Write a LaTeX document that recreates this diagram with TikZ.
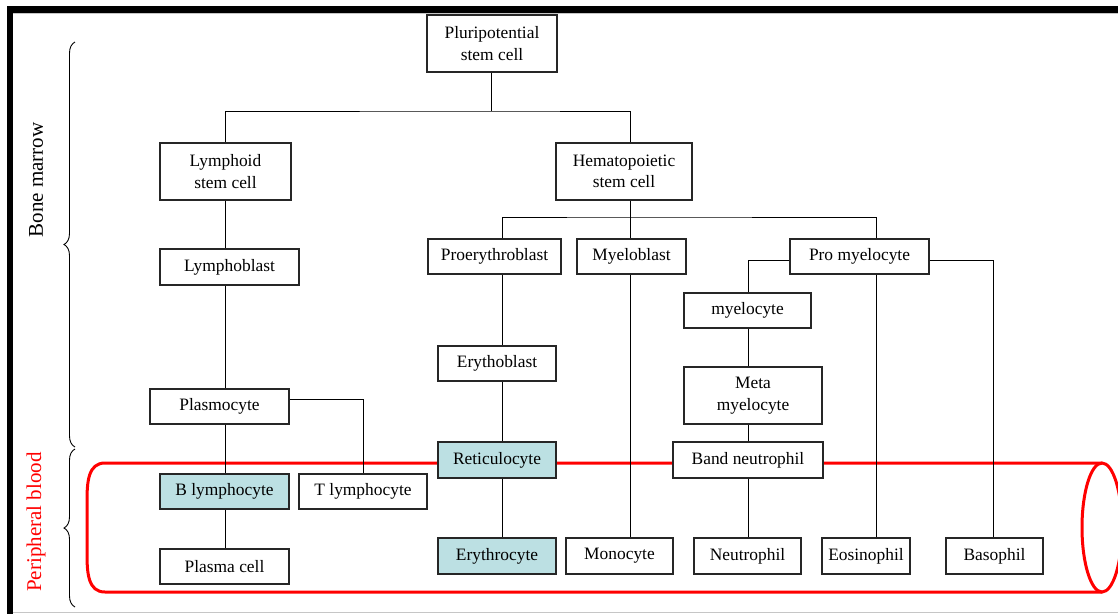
\documentclass[tikz,border=0pt]{standalone}
\usepackage{fontspec}
\setmainfont{Liberation Serif}
\usetikzlibrary{decorations.pathreplacing}
\definecolor{cellblue}{HTML}{BCE0E3}
\tikzset{
  box/.style={draw=black!85, line width=1.1pt, fill=white, inner sep=0pt, align=center,
    font=\fontsize{17.4}{21.5}\selectfont},
  hl/.style={box, fill=cellblue},
  link/.style={line width=1pt},
  tube/.style={draw=red, line width=3pt},
  bracestyle/.style={decorate, decoration={brace, amplitude=11pt}, line width=0.9pt},
  sidelabel/.style={rotate=90, font=\fontsize{21}{25}\selectfont},
}
\begin{document}
\begin{tikzpicture}[x=1pt,y=-1pt]
\useasboundingbox (0,0) rectangle (1118,614);
% frame
\fill[black] (7,6) rectangle (1118,12.5);
\fill[black] (7,6) rectangle (13,614);
\draw[gray!45, line width=1pt] (13,13) -- (1118,13);
\draw[gray!45, line width=1.2pt] (13,612.5) -- (1118,612.5);

% column coordinates
\coordinate (cA) at (225,0);
\coordinate (cC) at (502,0);
\coordinate (cE) at (630,0);
\coordinate (cF) at (748,0);
\coordinate (cG) at (876,0);
\coordinate (cH) at (993,0);
\coordinate (j1) at (491,111);
\coordinate (j2) at (630,217);

% vessel
\draw[tube] (1102,463) -- (105,463) .. controls (88,463) and (87,482) .. (87,502)
  -- (87,553) .. controls (87,573) and (88,592) .. (105,592) -- (1102,592);
\draw[tube] (1102,527.5) ellipse [x radius=20, y radius=64.5];

% braces and labels
\draw[bracestyle] (75,447) -- (75,42);
\draw[bracestyle] (75,607) -- (75,449);
\node[sidelabel] (bm) at (36,180) {Bone marrow};
\node[sidelabel, text=red] (pb) at (36,522) {Peripheral blood};

% nodes
\node[box, minimum width=130, minimum height=57] (pluri) at (492,43.5) {Pluripotential\\stem cell};
\node[box, minimum width=131, minimum height=57] (lymph) at (225.5,171.5) {Lymphoid\\stem cell};
\node[box, minimum width=136, minimum height=57] (hema) at (624,171.5) {Hematopoietic\\stem cell};
\node[box, minimum width=139, minimum height=36] (lblast) at (229.5,267) {Lymphoblast};
\node[box, minimum width=133, minimum height=35] (proery) at (494.5,256.5) {Proerythroblast};
\node[box, minimum width=109, minimum height=35] (myelob) at (631.5,256.5) {Myeloblast};
\node[box, minimum width=139, minimum height=35] (promy) at (859.5,256.5) {Pro myelocyte};
\node[box, minimum width=127, minimum height=35] (myel) at (747.5,310.5) {myelocyte};
\node[box, minimum width=138, minimum height=57] (meta) at (753,395.5) {Meta\\myelocyte};
\node[box, minimum width=118, minimum height=35] (erytho) at (497,363.5) {Erythoblast};
\node[box, minimum width=139, minimum height=35] (plasmo) at (219.5,406.5) {Plasmocyte};
\node[hl,  minimum width=118, minimum height=36] (retic) at (497,460) {Reticulocyte};
\node[box, minimum width=150, minimum height=36] (band) at (748,460) {Band neutrophil};
\node[hl,  minimum width=129, minimum height=35] (blym) at (224.5,491.5) {B lymphocyte};
\node[box, minimum width=128, minimum height=35] (tlym) at (363,491.5) {T lymphocyte};
\node[box, minimum width=129, minimum height=35] (plcell) at (224.5,566.5) {Plasma cell};
\node[hl,  minimum width=118, minimum height=36] (eryc) at (497,556) {Erythrocyte};
\node[box, minimum width=107, minimum height=36] (mono) at (619.5,556) {Monocyte};
\node[box, minimum width=107, minimum height=36] (neut) at (747.5,556) {Neutrophil};
\node[box, minimum width=88, minimum height=36] (eos) at (866,556) {Eosinophil};
\node[box, minimum width=97, minimum height=36] (baso) at (994.5,556) {Basophil};

% connectors
\draw[link] (pluri.south -| j1) -- (j1);
\draw[link] (lymph.north -| cA) |- (j1) -| (hema.north -| cE);
\draw[link] (hema.south -| cE) -- (myelob.north -| cE);
\draw[link] (proery.north -| cC) |- (j2) -| (promy.north -| cG);
\draw[link] (myelob.south -| cE) -- (mono.north -| cE);
\draw[link] (proery.south -| cC) -- (erytho.north -| cC);
\draw[link] (erytho.south -| cC) -- (retic.north -| cC);
\draw[link] (retic.south -| cC) -- (eryc.north -| cC);
\draw[link] (promy.south -| cG) -- (eos.north -| cG);
\draw[link] ([yshift=-4pt]promy.west) -| (myel.north -| cF);
\draw[link] ([yshift=-4pt]promy.east) -| (baso.north -| cH);
\draw[link] (myel.south -| cF) -- (meta.north -| cF);
\draw[link] (meta.south -| cF) -- (band.north -| cF);
\draw[link] (band.south -| cF) -- (neut.north -| cF);
\draw[link] (lymph.south -| cA) -- (lblast.north -| cA);
\draw[link] (lblast.south -| cA) -- (plasmo.north -| cA);
\draw[link] (plasmo.south -| cA) -- (blym.north -| cA);
\draw[link] (blym.south -| cA) -- (plcell.north -| cA);
\draw[link] ([yshift=7.5pt]plasmo.east) -| (tlym.north);
\end{tikzpicture}
\end{document}
